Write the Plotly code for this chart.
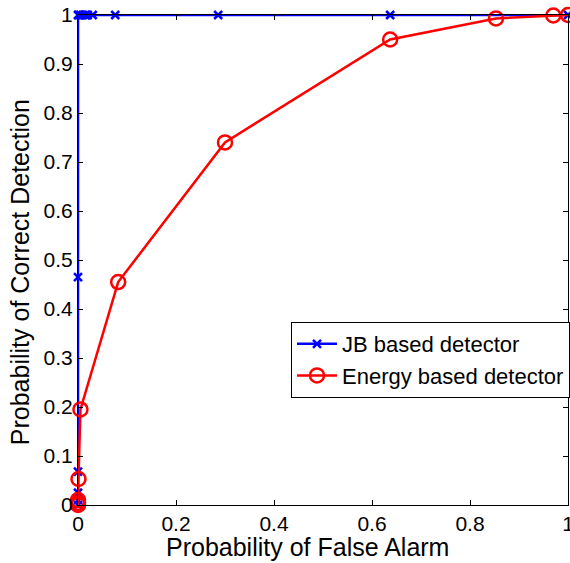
import plotly.graph_objects as go

jb_pfa = [0, 0, 0, 0, 0, 0, 0.002, 0.005, 0.01, 0.015, 0.02, 0.03, 0.076, 0.286, 0.637, 1.0]
jb_pd = [0, 0.01, 0.025, 0.068, 0.465, 1, 1, 1, 1, 1, 1, 1, 1, 1, 1, 1]

en_pfa = [0, 0, 0, 0.001, 0.005, 0.082, 0.30, 0.637, 0.853, 0.97, 1.0]
en_pd = [0, 0.004, 0.01, 0.053, 0.195, 0.455, 0.74, 0.95, 0.993, 0.999, 1.0]

xticks = [0, 0.2, 0.4, 0.6, 0.8, 1]
xticklabels = ["0", "0.2", "0.4", "0.6", "0.8", "1"]
yticks = [0, 0.1, 0.2, 0.3, 0.4, 0.5, 0.6, 0.7, 0.8, 0.9, 1]
yticklabels = ["0", "0.1", "0.2", "0.3", "0.4", "0.5", "0.6", "0.7", "0.8", "0.9", "1"]

FONT = "Liberation Sans, Arial, sans-serif"

fig = go.Figure()
fig.add_trace(go.Scatter(
    x=jb_pfa, y=jb_pd, mode="lines+markers", name="JB based detector",
    line=dict(color="#0000ff", width=2.5),
    marker=dict(symbol="x-thin-open", size=8, color="#0000ff", line=dict(color="#0000ff", width=2.5)),
    cliponaxis=False,
))
fig.add_trace(go.Scatter(
    x=en_pfa, y=en_pd, mode="lines+markers", name="Energy based detector",
    line=dict(color="#ff0000", width=2.5),
    marker=dict(symbol="circle-open", size=14, color="#ff0000", line=dict(color="#ff0000", width=2.5)),
    cliponaxis=False,
))

axis_common = dict(
    range=[0, 1], showgrid=False, zeroline=False, showline=True, mirror="allticks",
    linecolor="black", linewidth=1, ticks="inside", ticklen=5, tickcolor="black",
    tickfont=dict(family=FONT, size=21, color="black"),
    ticklabeloverflow="allow", automargin=False,
)
fig.update_xaxes(**axis_common, tickvals=xticks, ticktext=xticklabels)
fig.update_yaxes(**axis_common, tickvals=yticks, ticktext=yticklabels)

fig.update_layout(
    width=570, height=563,
    margin=dict(l=78, r=2, t=15, b=58, autoexpand=False),
    plot_bgcolor="white", paper_bgcolor="white",
    legend=dict(x=0.4347, y=0.3735, xanchor="left", yanchor="top",
                bgcolor="white", bordercolor="black", borderwidth=1,
                font=dict(family=FONT, size=22, color="black"),
                itemwidth=40, tracegroupgap=0),
    annotations=[
        dict(text="Probability of False Alarm", xref="paper", yref="paper",
             x=0.469, y=-0.086, xanchor="center", yanchor="middle", showarrow=False,
             font=dict(family=FONT, size=25, color="black")),
        dict(text="Probability of Correct Detection", xref="paper", yref="paper",
             x=-0.118, y=0.4755, xanchor="center", yanchor="middle", showarrow=False,
             textangle=-90, font=dict(family=FONT, size=25, color="black")),
    ],
)

fig.write_html("out.html")
